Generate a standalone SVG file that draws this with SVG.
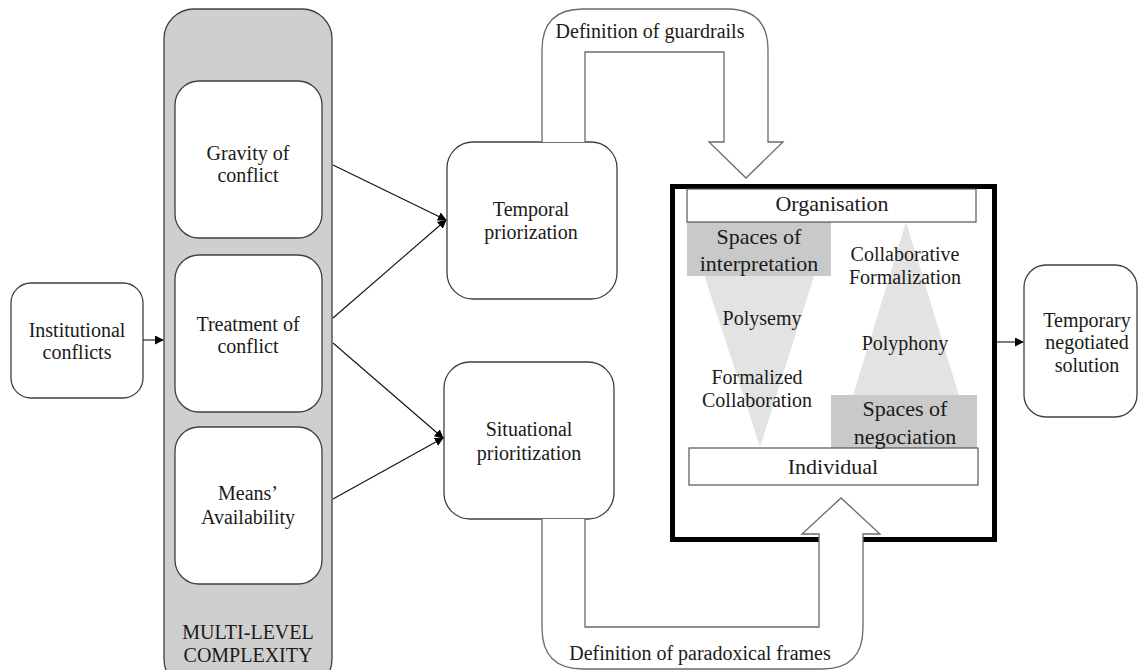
<svg xmlns="http://www.w3.org/2000/svg" width="1139" height="670" viewBox="0 0 1139 670" font-family="'Liberation Serif', Tinos, 'DejaVu Serif', 'Times New Roman', serif">
<defs>
<marker id="ah" viewBox="0 0 10 10" refX="9" refY="5" markerWidth="9" markerHeight="9" markerUnits="userSpaceOnUse" orient="auto">
<path d="M0,0 L10,5 L0,10 z" fill="#000"/>
</marker>
<style>
text{font-family:'Liberation Serif', Tinos, 'DejaVu Serif', 'Times New Roman', serif;fill:#1a1a1a;text-anchor:middle}
.t20{font-size:20px}
.t22{font-size:22px}
.box{fill:#fff;stroke:#404040;stroke-width:1.3}
.bigarrow{fill:#fff;stroke:#6b6b6b;stroke-width:1.3}
.conn{stroke:#111;stroke-width:1.1;fill:none}
</style>
</defs>
<rect width="1139" height="670" fill="#fff"/>

<g id="multilevel">
<rect x="164" y="9" width="168" height="680" rx="30" fill="#d0cfcf" stroke="#404040" stroke-width="1.3"/>
<text class="t20" x="248" y="639">MULTI-LEVEL</text>
<text class="t20" x="248" y="662">COMPLEXITY</text>
</g>

<g id="institutional">
<rect class="box" x="11" y="283" width="132" height="115" rx="20"/>
<text class="t20" x="77" y="337">Institutional</text>
<text class="t20" x="77" y="359">conflicts</text>
</g>

<g id="gravity">
<rect class="box" x="175" y="81" width="147" height="157" rx="24"/>
<text class="t20" x="248" y="160">Gravity  of</text>
<text class="t20" x="248" y="182">conflict</text>
</g>

<g id="treatment">
<rect class="box" x="175" y="255" width="147" height="157" rx="24"/>
<text class="t20" x="248" y="331">Treatment  of</text>
<text class="t20" x="248" y="353">conflict</text>
</g>

<g id="means">
<rect class="box" x="175" y="427" width="147" height="157" rx="24"/>
<text class="t20" x="248" y="500">Means’</text>
<text class="t20" x="248" y="524">Availability</text>
</g>

<g id="temporal">
<rect class="box" x="447" y="142" width="170" height="157" rx="26"/>
<text class="t20" x="531" y="216">Temporal</text>
<text class="t20" x="531" y="239">priorization</text>
</g>

<g id="situational">
<rect class="box" x="444" y="362" width="170" height="157" rx="26"/>
<text class="t20" x="529" y="436">Situational</text>
<text class="t20" x="529" y="460">prioritization</text>
</g>

<g id="temporary">
<rect class="box" x="1024" y="265" width="113" height="152" rx="22"/>
<text class="t20" x="1087" y="327">Temporary</text>
<text class="t20" x="1087" y="349">negotiated</text>
<text class="t20" x="1087" y="372">solution</text>
</g>

<g id="framework">
<rect x="672.5" y="186.5" width="322" height="353" fill="#fff" stroke="#000" stroke-width="5"/>
<polygon points="687,222 831,222 760,447" fill="#e3e3e3"/>
<polygon points="906,222 975,448 837,448" fill="#e3e3e3"/>
<rect x="687" y="222" width="144" height="54" fill="#c9c9c9"/>
<rect x="831" y="395" width="146" height="53" fill="#c9c9c9"/>
<rect x="687" y="189" width="289" height="33" fill="#fff" stroke="#555" stroke-width="1.2"/>
<text class="t22" x="832" y="211">Organisation</text>
<rect x="689" y="448" width="289" height="37" fill="#fff" stroke="#555" stroke-width="1.2"/>
<text class="t22" x="833" y="474">Individual</text>
<text class="t22" x="759" y="244">Spaces of</text>
<text class="t22" x="759" y="271">interpretation</text>
<text class="t20" x="905" y="261">Collaborative</text>
<text class="t20" x="905" y="284">Formalization</text>
<text class="t20" x="762" y="325">Polysemy</text>
<text class="t20" x="905" y="350">Polyphony</text>
<text class="t20" x="757" y="384">Formalized</text>
<text class="t20" x="757" y="407">Collaboration</text>
<text class="t22" x="905" y="416">Spaces of</text>
<text class="t22" x="905" y="444">negociation</text>
</g>

<g id="guardrails">
<path class="bigarrow" d="M542,142 L542,50 Q542,9 583,9 L727,9 Q768,9 768,50 L768,142 L783,142 L746,178 L709,142 L724,142 L724,52 L585,52 L585,142"/>
<text class="t20" x="650" y="38">Definition of guardrails</text>
</g>

<g id="paradoxical">
<path class="bigarrow" d="M542,519 L542,628 Q542,669 583,669 L822,669 Q863,669 863,628 L863,534 L880,534 L841,498 L802,534 L819,534 L819,627 L585,627 L585,519"/>
<text class="t20" x="700" y="660">Definition of paradoxical  frames</text>
</g>

<g id="connectors">
<line class="conn" x1="143" y1="340" x2="163" y2="340" marker-end="url(#ah)"/>
<line class="conn" x1="333" y1="165" x2="446" y2="220" marker-end="url(#ah)"/>
<line class="conn" x1="333" y1="318" x2="446" y2="220" marker-end="url(#ah)"/>
<line class="conn" x1="333" y1="343" x2="443" y2="438" marker-end="url(#ah)"/>
<line class="conn" x1="333" y1="499" x2="443" y2="438" marker-end="url(#ah)"/>
<line class="conn" x1="997" y1="342" x2="1023" y2="342" marker-end="url(#ah)"/>
</g>
</svg>
